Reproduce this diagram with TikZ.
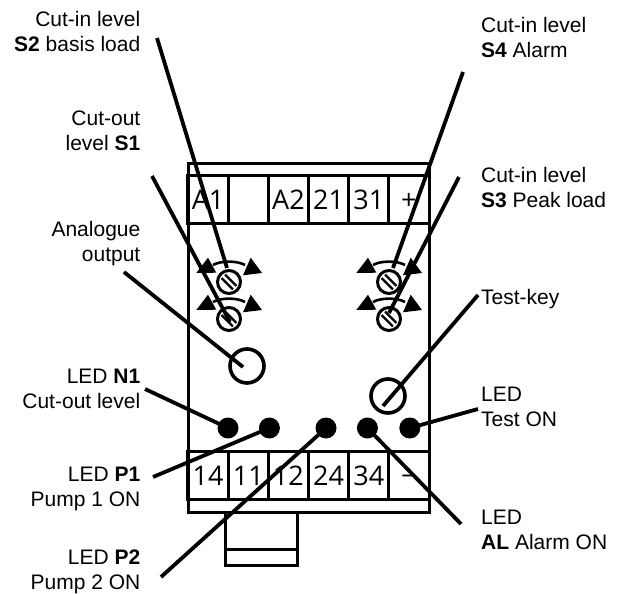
\documentclass[tikz,border=0pt]{standalone}
\usepackage{fontspec}
\setmainfont{Liberation Sans}
\newfontfamily\termfont{Open Sans}
\usetikzlibrary{positioning}
\tikzset{
	labe/.append style={
		align = left,
		inner sep=0mm,
		font={\fontsize{21}{25}\selectfont},
	},
	labr/.append style={
		labe,
		align = right,
	},
	panel/.append style={
		draw,
		line width=3pt,
		inner sep=0mm,
		outer sep=0mm,
	},
	cell/.append style={
		panel,
		minimum width=40.17pt,
		minimum height=48pt,
		text height=20pt,
		text depth=0pt,
		font={\termfont\fontsize{27}{27}\selectfont},
	},
	led/.append style={
		circle,
		fill,
		inner sep=0mm,
		minimum size=21pt,
	},
	knob/.append style={
		circle,
		draw,
		line width=3.6pt,
		inner sep=0mm,
		minimum size=34pt,
	},
	leader/.append style={
		line width=3.8pt,
	},
	pics/dial/.style={
		code={
			\node(-screw)[circle, draw, line width=3pt, inner sep=0mm, minimum size=23pt] at (0,0) {};
			\draw[line width=2.3pt] (-3.9,-7.5) -- (7.5,3.9);
			\draw[line width=2.3pt] (-7.5,-3.9) -- (3.9,7.5);
			\draw[line width=2.6pt] (-16,-17) .. controls (-8,-21.5) and (8,-21.5) .. (16,-17);
			\fill (-32.7,-9) -- (-21,-24.3) -- (-12.7,-9.3) -- cycle;
			\fill (14,-6.7) -- (21.7,-24.3) -- (33,-9) -- cycle;
		}
	}
}

\begin{document}
\begin{tikzpicture}[x=1pt, y=-1pt, node distance=0pt]
		\useasboundingbox (0,0) rectangle (619,594);

		\node(housing)[panel, minimum width=241pt, minimum height=349pt] at (308.5,337.5) {};
		\node(clip)[panel, minimum width=72pt, minimum height=37pt] at (261,530.5) {};
		\node(cliplip)[panel, minimum width=72pt, minimum height=16pt, below=of clip] {};

		\node(tA1)[cell] at (208.08,199) {A1};
		\node(tNone)[cell, right=of tA1] {};
		\node(tA2)[cell, right=of tNone] {A2};
		\node(t21)[cell, right=of tA2] {21};
		\node(t31)[cell, right=of t21] {31};
		\node(tPlus)[cell, right=of t31] {+};

		\node(t14)[cell] at (208.08,475) {14};
		\node(t11)[cell, right=of t14] {11};
		\node(t12)[cell, right=of t11] {12};
		\node(t24)[cell, right=of t12] {24};
		\node(t34)[cell, right=of t24] {34};
		\node(tMinus)[cell, right=of t34] {−};

		\pic(dialS2) at (229,282) {dial};
		\pic(dialS1) at (229,319) {dial};
		\pic(dialS4) at (389,282) {dial};
		\pic(dialS3) at (389,319) {dial};

		\node(analogue)[knob] at (247,366) {};
		\node(testkey)[knob] at (388,396) {};

		\node(ledN1)[led] at (228,428) {};
		\node(ledP1)[led, right=20pt of ledN1] {};
		\node(ledP2)[led] at (326,428) {};
		\node(ledAL)[led, right=20pt of ledP2] {};
		\node(ledTest)[led, right=21pt of ledAL] {};

		\node(lblS2)[labr, anchor=base east] at (140.5,52) {Cut-in level\\\textbf{S2} basis load};
		\node(lblS1)[labr, anchor=base east] at (140.5,150) {Cut-out\\level \textbf{S1}};
		\node(lblOut)[labr, anchor=base east] at (140.5,261) {Analogue\\output};
		\node(lblN1)[labr, anchor=base east] at (140.5,408) {LED \textbf{N1}\\Cut-out level};
		\node(lblP1)[labr, anchor=base east] at (140.5,506) {LED \textbf{P1}\\Pump 1 ON};
		\node(lblP2)[labr, anchor=base east] at (140.5,589) {LED \textbf{P2}\\Pump 2 ON};

		\node(lblS4)[labe, anchor=base west] at (481,58) {Cut-in level\\\textbf{S4} Alarm};
		\node(lblS3)[labe, anchor=base west] at (481,207) {Cut-in level\\\textbf{S3} Peak load};
		\node(lblKey)[labe, anchor=base west] at (481,304) {Test-key};
		\node(lblTest)[labe, anchor=base west] at (481,426) {LED\\Test ON};
		\node(lblAL)[labe, anchor=base west] at (481,549) {LED\\\textbf{AL} Alarm ON};

		\coordinate(fromS2) at (157,38);
		\coordinate(fromS1) at (152,176);
		\coordinate(fromOut) at (124,272);
		\coordinate(fromN1) at (145,389);
		\coordinate(fromP1) at (153,477);
		\coordinate(fromP2) at (161,577);
		\coordinate(fromS4) at (463,72);
		\coordinate(fromS3) at (459,177);
		\coordinate(fromKey) at (478,295);
		\coordinate(fromTest) at (478,409);
		\coordinate(fromAL) at (461,524);

		\coordinate(toS2) at (227,268);
		\coordinate(toS1) at (230,322);
		\coordinate(toS4) at (393,268);
		\coordinate(toS3) at (389,313);
		\coordinate(toOut) at (243,367);
		\coordinate(toKey) at (383,406);

		\draw[leader] (fromS2) -- (toS2);
		\draw[leader] (fromS1) -- (toS1);
		\draw[leader] (fromOut) -- (toOut);
		\draw[leader] (fromN1) -- (ledN1.center);
		\draw[leader] (fromP1) -- (ledP1.center);
		\draw[leader] (fromP2) -- (ledP2.center);
		\draw[leader] (fromS4) -- (toS4);
		\draw[leader] (fromS3) -- (toS3);
		\draw[leader] (fromKey) -- (toKey);
		\draw[leader] (fromTest) -- (ledTest.center);
		\draw[leader] (fromAL) -- (ledAL.center);
\end{tikzpicture}
\end{document}
